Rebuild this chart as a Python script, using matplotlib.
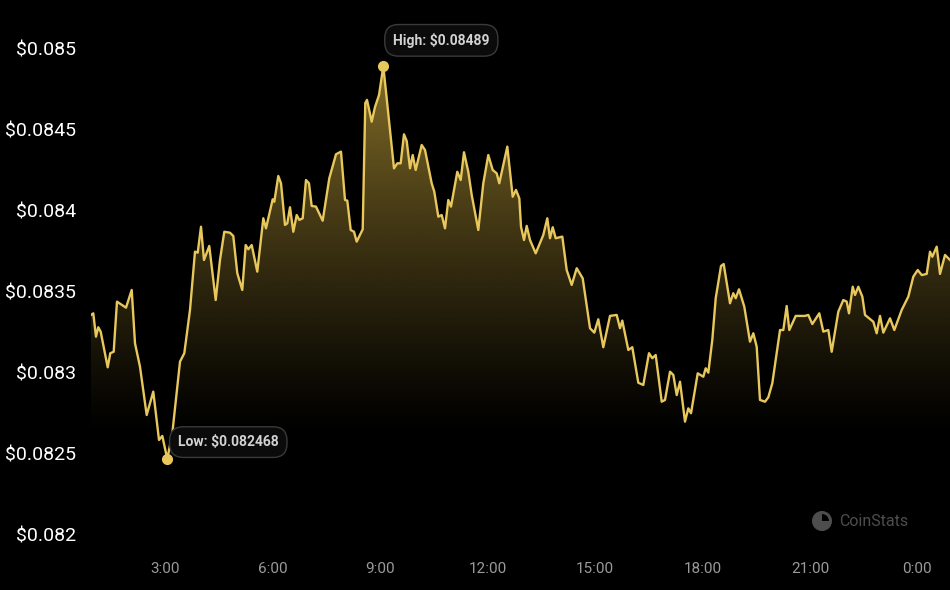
import numpy as np
import matplotlib.pyplot as plt
from matplotlib.patches import Wedge, Circle

plt.rcParams['font.family'] = ['Roboto', 'DejaVu Sans']

# hours since midnight and price (USD)
hours = [0.935, 0.999, 1.074, 1.138, 1.205, 1.401, 1.473, 1.568, 1.660, 1.912,
         2.071, 2.163, 2.302, 2.489, 2.673, 2.833, 2.925, 3.064, 3.204, 3.419,
         3.539, 3.698, 3.837, 3.913, 4.005, 4.088, 4.236, 4.415, 4.535, 4.655,
         4.814, 4.906, 5.018, 5.157, 5.252, 5.325, 5.420, 5.576, 5.744, 5.819,
         6.006, 6.051, 6.162, 6.238, 6.349, 6.413, 6.489, 6.581, 6.676, 6.748,
         6.843, 6.935, 7.019, 7.094, 7.214, 7.401, 7.586, 7.773, 7.912, 8.024,
         8.088, 8.183, 8.275, 8.350, 8.518, 8.590, 8.638, 8.769, 8.861, 8.973,
         9.093, 9.168, 9.391, 9.484, 9.578, 9.670, 9.746, 9.838, 9.913, 9.997,
         10.164, 10.257, 10.443, 10.516, 10.628, 10.723, 10.815, 10.907, 10.982, 11.158,
         11.253, 11.345, 11.465, 11.560, 11.744, 11.884, 12.023, 12.146, 12.258, 12.330,
         12.554, 12.704, 12.796, 12.889, 12.936, 13.020, 13.095, 13.187, 13.346, 13.558,
         13.670, 13.745, 13.821, 13.904, 14.089, 14.211, 14.351, 14.491, 14.658, 14.862,
         14.982, 15.093, 15.233, 15.420, 15.607, 15.699, 15.763, 15.931, 16.042, 16.210,
         16.349, 16.508, 16.601, 16.695, 16.863, 16.955, 17.095, 17.187, 17.282, 17.374,
         17.513, 17.605, 17.681, 17.868, 18.024, 18.091, 18.164, 18.275, 18.370, 18.518,
         18.593, 18.769, 18.861, 18.928, 19.020, 19.168, 19.327, 19.420, 19.514, 19.606,
         19.746, 19.838, 19.950, 20.165, 20.257, 20.351, 20.424, 20.603, 20.862, 20.954,
         21.066, 21.261, 21.373, 21.513, 21.607, 21.792, 21.931, 22.026, 22.090, 22.194,
         22.258, 22.350, 22.462, 22.537, 22.769, 22.863, 22.956, 23.048, 23.235, 23.355,
         23.561, 23.746, 23.885, 24.008, 24.120, 24.259, 24.351, 24.416, 24.538, 24.630,
         24.770, 24.909]

prices = [0.083357, 0.083367, 0.083223, 0.083281, 0.083254, 0.083034, 0.083121, 0.083130, 0.083439, 0.083402,
          0.083511, 0.083182, 0.083038, 0.082740, 0.082884, 0.082586, 0.082611, 0.082468, 0.082627, 0.083069,
          0.083121, 0.083388, 0.083747, 0.083741, 0.083901, 0.083696, 0.083782, 0.083449, 0.083696, 0.083870,
          0.083864, 0.083844, 0.083614, 0.083511, 0.083788, 0.083762, 0.083788, 0.083624, 0.083953, 0.083891,
          0.084070, 0.084055, 0.084214, 0.084169, 0.083912, 0.083922, 0.084021, 0.083870, 0.083973, 0.083943,
          0.083953, 0.084189, 0.084169, 0.084029, 0.084025, 0.083938, 0.084200, 0.084348, 0.084364, 0.084066,
          0.084062, 0.083881, 0.083870, 0.083809, 0.083885, 0.084664, 0.084683, 0.084549, 0.084639, 0.084713,
          0.084890, 0.084734, 0.084261, 0.084292, 0.084292, 0.084471, 0.084430, 0.084261, 0.084343, 0.084251,
          0.084405, 0.084374, 0.084169, 0.084117, 0.083963, 0.083973, 0.083891, 0.084066, 0.084025, 0.084240,
          0.084189, 0.084360, 0.084240, 0.084097, 0.083881, 0.084169, 0.084343, 0.084251, 0.084230, 0.084169,
          0.084395, 0.084086, 0.084128, 0.084076, 0.083901, 0.083819, 0.083906, 0.083819, 0.083737, 0.083850,
          0.083953, 0.083830, 0.083898, 0.083830, 0.083840, 0.083634, 0.083542, 0.083645, 0.083583, 0.083275,
          0.083248, 0.083330, 0.083158, 0.083351, 0.083357, 0.083275, 0.083322, 0.083141, 0.083158, 0.082939,
          0.082925, 0.083121, 0.083090, 0.083110, 0.082822, 0.082833, 0.083007, 0.082987, 0.082863, 0.082945,
          0.082699, 0.082781, 0.082751, 0.082997, 0.082976, 0.083028, 0.083001, 0.083203, 0.083460, 0.083659,
          0.083671, 0.083429, 0.083491, 0.083460, 0.083515, 0.083408, 0.083192, 0.083244, 0.083161, 0.082833,
          0.082822, 0.082849, 0.082936, 0.083264, 0.083264, 0.083412, 0.083264, 0.083351, 0.083351, 0.083357,
          0.083301, 0.083367, 0.083254, 0.083264, 0.083130, 0.083377, 0.083449, 0.083439, 0.083367, 0.083531,
          0.083480, 0.083531, 0.083470, 0.083357, 0.083315, 0.083244, 0.083351, 0.083248, 0.083336, 0.083264,
          0.083388, 0.083470, 0.083593, 0.083634, 0.083603, 0.083610, 0.083747, 0.083716, 0.083778, 0.083610,
          0.083727, 0.083696]

y_ticks = [0.082, 0.0825, 0.083, 0.0835, 0.084, 0.0845, 0.085]
y_labels = ['$0.082', '$0.0825', '$0.083', '$0.0835', '$0.084', '$0.0845', '$0.085']
x_ticks = [3, 6, 9, 12, 15, 18, 21, 24]
x_labels = ['3:00', '6:00', '9:00', '12:00', '15:00', '18:00', '21:00', '0:00']

line_col = '#e8c85c'
bg = '#000000'

x = np.array(hours)
y = np.array(prices)

fig = plt.figure(figsize=(9.5, 5.9), dpi=100, facecolor=bg)
ax = fig.add_axes([91 / 950, 45 / 590, 1 - 91 / 950, 525 / 590])
ax.set_facecolor(bg)

ymin, ymax = 0.0819383, 0.0851758
ax.set_xlim(x[0], x[-1])
ax.set_ylim(ymin, ymax)

# gradient fill under the line
fill = ax.fill_between(x, y, ymin, color='none', lw=0)
grad = np.zeros((256, 1, 4))
grad[:, 0, 0] = 212 / 255
grad[:, 0, 1] = 176 / 255
grad[:, 0, 2] = 64 / 255
t = np.linspace(1, 0, 256)  # top -> bottom
lo, hi = 0.0826, 0.0849
vals = ymin + (ymax - ymin) * t
grad[:, 0, 3] = np.clip((vals - lo) / (hi - lo), 0, 1) ** 1.2 * 0.62
im = ax.imshow(grad, aspect='auto', extent=[x[0], x[-1], ymin, ymax],
               origin='upper', zorder=1)
im.set_clip_path(fill.get_paths()[0], transform=ax.transData)

ax.plot(x, y, color=line_col, lw=1.7, zorder=3, solid_joinstyle='round')

# high / low markers
i_hi = int(np.argmax(y))
i_lo = int(np.argmin(y))
ax.plot([x[i_hi], x[i_lo]], [y[i_hi], y[i_lo]], 'o', color=line_col,
        ms=7, zorder=4)

box = dict(boxstyle='round,pad=0.6,rounding_size=1.0', fc='#0b0b0b',
           ec='#3a3a3a', lw=1)
ax.annotate(f'High: ${y[i_hi]:.5f}', (x[i_hi], y[i_hi]),
            xytext=(58, 26), textcoords='offset pixels', ha='center',
            va='center', fontsize=10, fontweight='bold', color='#d2d2d2',
            bbox=box, zorder=5)
ax.annotate(f'Low: ${y[i_lo]:.6f}', (x[i_lo], y[i_lo]),
            xytext=(61, 17), textcoords='offset pixels', ha='center',
            va='center', fontsize=10, fontweight='bold', color='#d2d2d2',
            bbox=box, zorder=5)

ax.set_yticks(y_ticks)
ax.set_yticklabels(y_labels)
ax.set_xticks(x_ticks)
ax.set_xticklabels(x_labels)
ax.tick_params(axis='y', length=0, pad=11, labelsize=14, labelcolor='white')
ax.tick_params(axis='x', length=0, pad=12, labelsize=11, labelcolor='#9a9a9a')
for s in ax.spines.values():
    s.set_visible(False)

# CoinStats watermark
lax = fig.add_axes([812 / 950, (590 - 531) / 590, 20 / 950, 20 / 590])
lax.set_xlim(-1, 1)
lax.set_ylim(-1, 1)
lax.set_aspect('equal')
lax.axis('off')
lax.add_patch(Circle((0, 0), 0.85, fc='none', ec='#4d4d4d', lw=2.2))
lax.add_patch(Wedge((0, 0), 0.85, 90, 360, fc='#4d4d4d', ec='none'))
fig.text(839 / 950, (590 - 521) / 590, 'CoinStats', color='#4d4d4d',
         fontsize=11.5, va='center', ha='left')

fig.savefig('out.png', dpi=100, facecolor=bg)
